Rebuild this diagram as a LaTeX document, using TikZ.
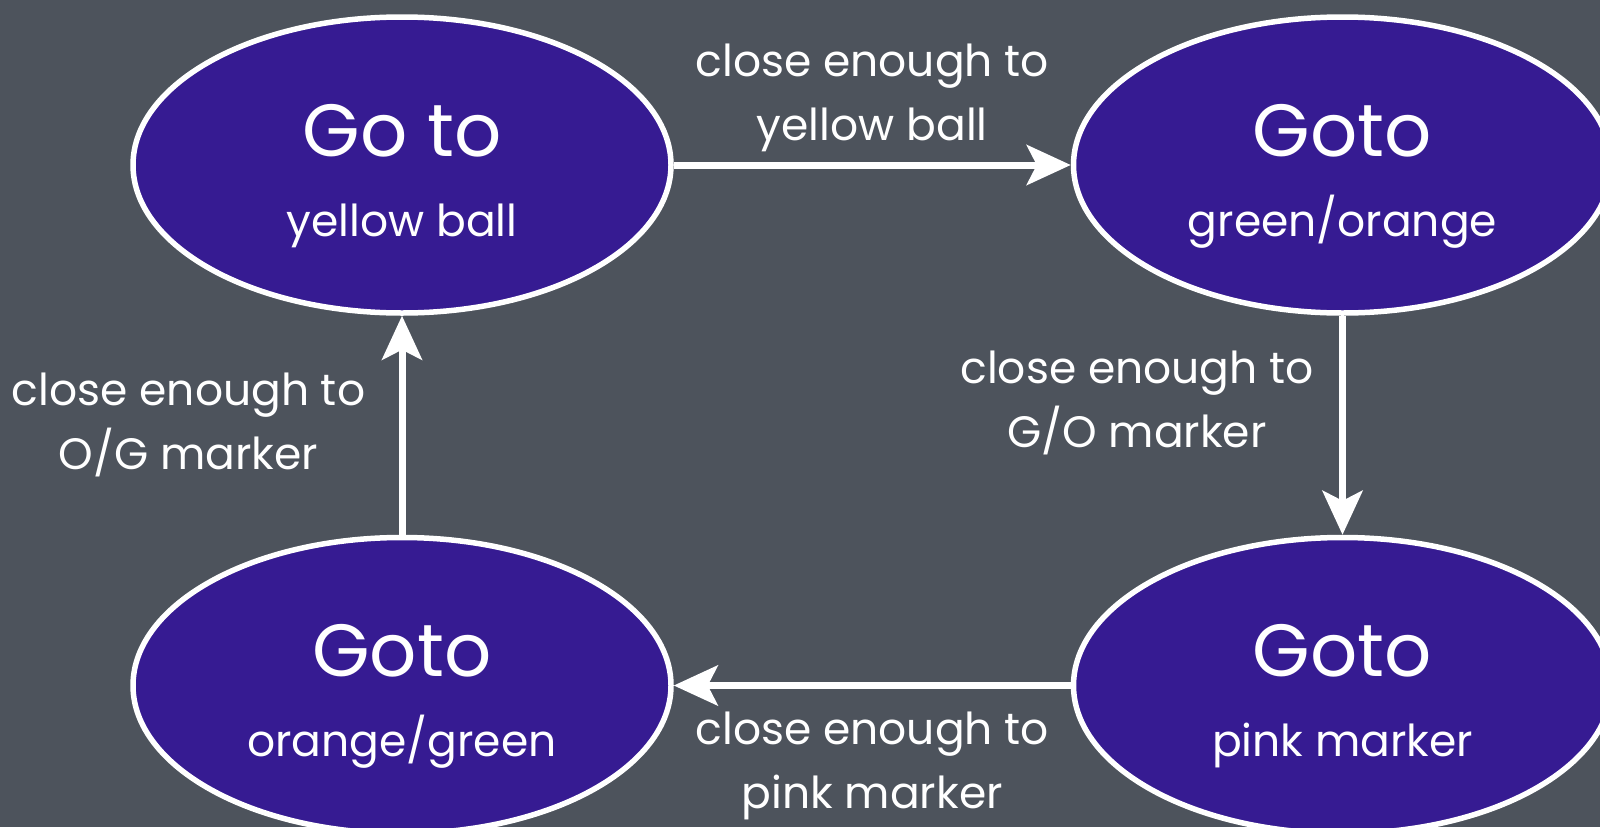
\documentclass[tikz,border=0pt]{standalone}
\usepackage{fontspec}
\setmainfont{Poppins}
\usetikzlibrary{arrows.meta,positioning,shapes.geometric}
\definecolor{slate}{HTML}{4D535C}
\definecolor{indigo}{HTML}{361B92}
\newcommand\ttl[1]{{\fontsize{74}{78}\selectfont\rule{0pt}{74pt}#1}}

\begin{document}
\begin{tikzpicture}[x=1pt,y=-1pt, node distance=397pt, every node/.style={text=white,align=center}, st/.style={ellipse,draw=white,line width=5.5pt,fill=indigo,minimum width=538pt,minimum height=296pt,inner sep=0pt,font=\fontsize{44}{80}\selectfont}, lbl/.style={font=\fontsize{44}{64}\selectfont}, a/.style={-{Stealth[length=44pt,width=40pt,inset=10pt]},line width=7pt,draw=white}]
\useasboundingbox (0,0) rectangle (1600,827);
\fill[slate] (0,0) rectangle (1600,827);
\node[st] (goball) at (402,165) {\ttl{Go to}\\yellow ball};
\node[st,right=of goball] (gogreen) {\ttl{Goto}\\green/orange};
\node[st,below=219pt of gogreen] (gopink) {\ttl{Goto}\\pink marker};
\node[st,left=of gopink] (goorange) {\ttl{Goto}\\orange/green};
\draw[a] (goball)--node[lbl,above=6pt] {close enough to\\yellow ball} (gogreen);
\draw[a] (gogreen)--node[lbl,left=22pt,pos=0.4] {close enough to\\G/O marker} (gopink);
\draw[a] (gopink)--node[lbl,below=20pt] {close enough to\\pink marker} (goorange);
\draw[a] (goorange)--node[lbl,left=30pt] {close enough to\\O/G marker} (goball);
\end{tikzpicture}
\end{document}
